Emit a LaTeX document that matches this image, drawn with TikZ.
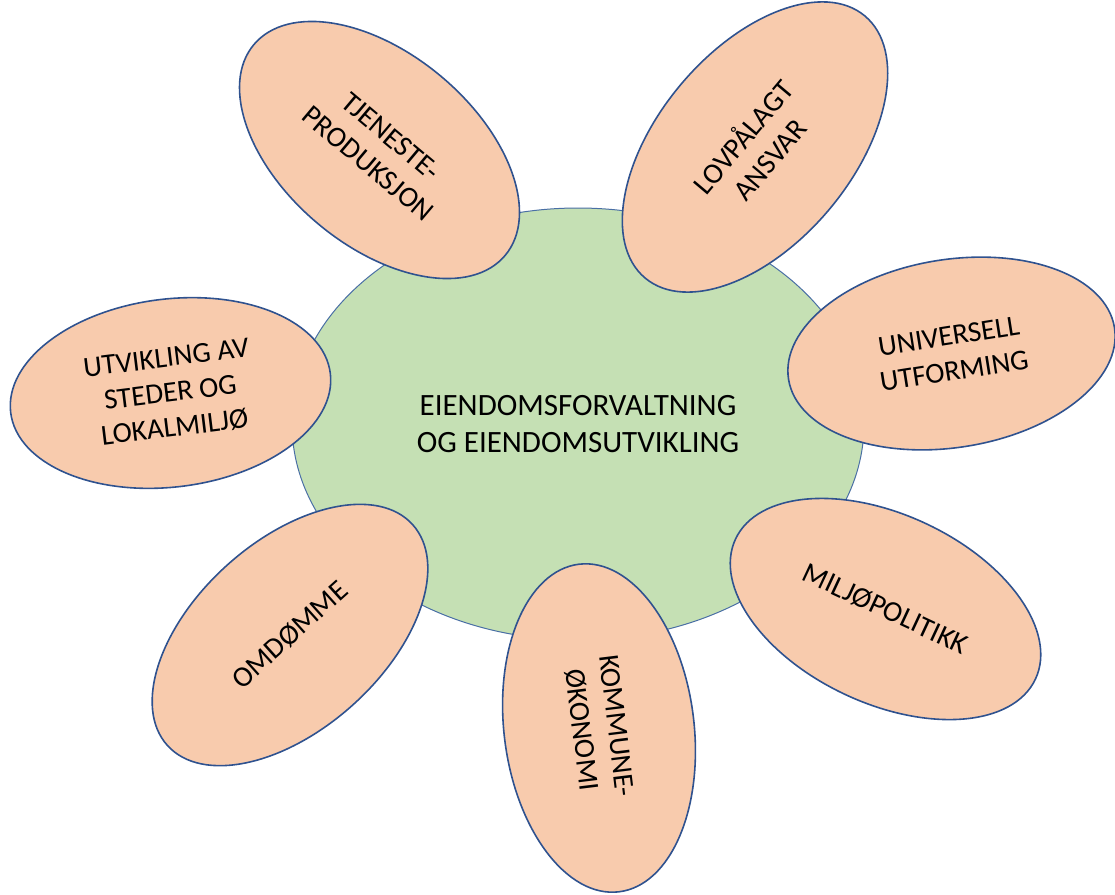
\documentclass[tikz,border=0pt]{standalone}
\usepackage{fontspec}
\setmainfont{Carlito}
\usetikzlibrary{shapes.geometric}
\definecolor{peach}{HTML}{F8CBAD}
\definecolor{leaf}{HTML}{C5E0B4}
\definecolor{rimblue}{HTML}{2F528F}
\definecolor{rimlight}{HTML}{4A6FA5}
\begin{document}
\begin{tikzpicture}[x=1pt,y=-1pt,
  hub/.style={ellipse, draw=rimlight, line width=1pt, fill=leaf, inner sep=0pt,
    minimum width=572pt, minimum height=432pt, align=center,
    font=\fontsize{31}{37}\selectfont},
  petal/.style={ellipse, draw=rimblue, line width=1.6pt, fill=peach, inner sep=0pt,
    minimum width=330pt, minimum height=190pt, align=center,
    font=\fontsize{29}{35}\selectfont}]
\useasboundingbox (0,0) rectangle (1115,894);
\node[hub] (hub) at (578,424) {EIENDOMSFORVALTNING\\OG EIENDOMSUTVIKLING};
\node[petal, rotate=-40, minimum width=328pt, minimum height=192pt] (tj) at (379.5,150) {TJENESTE-\\PRODUKSJON};
\node[petal, rotate=50, minimum width=342pt, minimum height=194pt] (lov) at (755,147) {LOVPÅLAGT\\ANSVAR};
\node[petal, rotate=9, minimum width=330pt, minimum height=188pt] (uni) at (951.5,353.5) {UNIVERSELL\\UTFORMING};
\node[petal, rotate=7, minimum width=322pt, minimum height=188pt] (utv) at (170.5,393) {UTVIKLING AV\\STEDER OG\\LOKALMILJØ};
\node[petal, rotate=42, minimum width=330pt, minimum height=188pt] (omd) at (290,635) {OMDØMME};
\node[petal, rotate=-25, minimum width=331pt, minimum height=189pt] (mil) at (885.5,609) {MILJØPOLITIKK};
\node[petal, rotate=-83, minimum width=330pt, minimum height=190pt] (kom) at (599,728) {KOMMUNE-\\ØKONOMI};
\end{tikzpicture}
\end{document}
